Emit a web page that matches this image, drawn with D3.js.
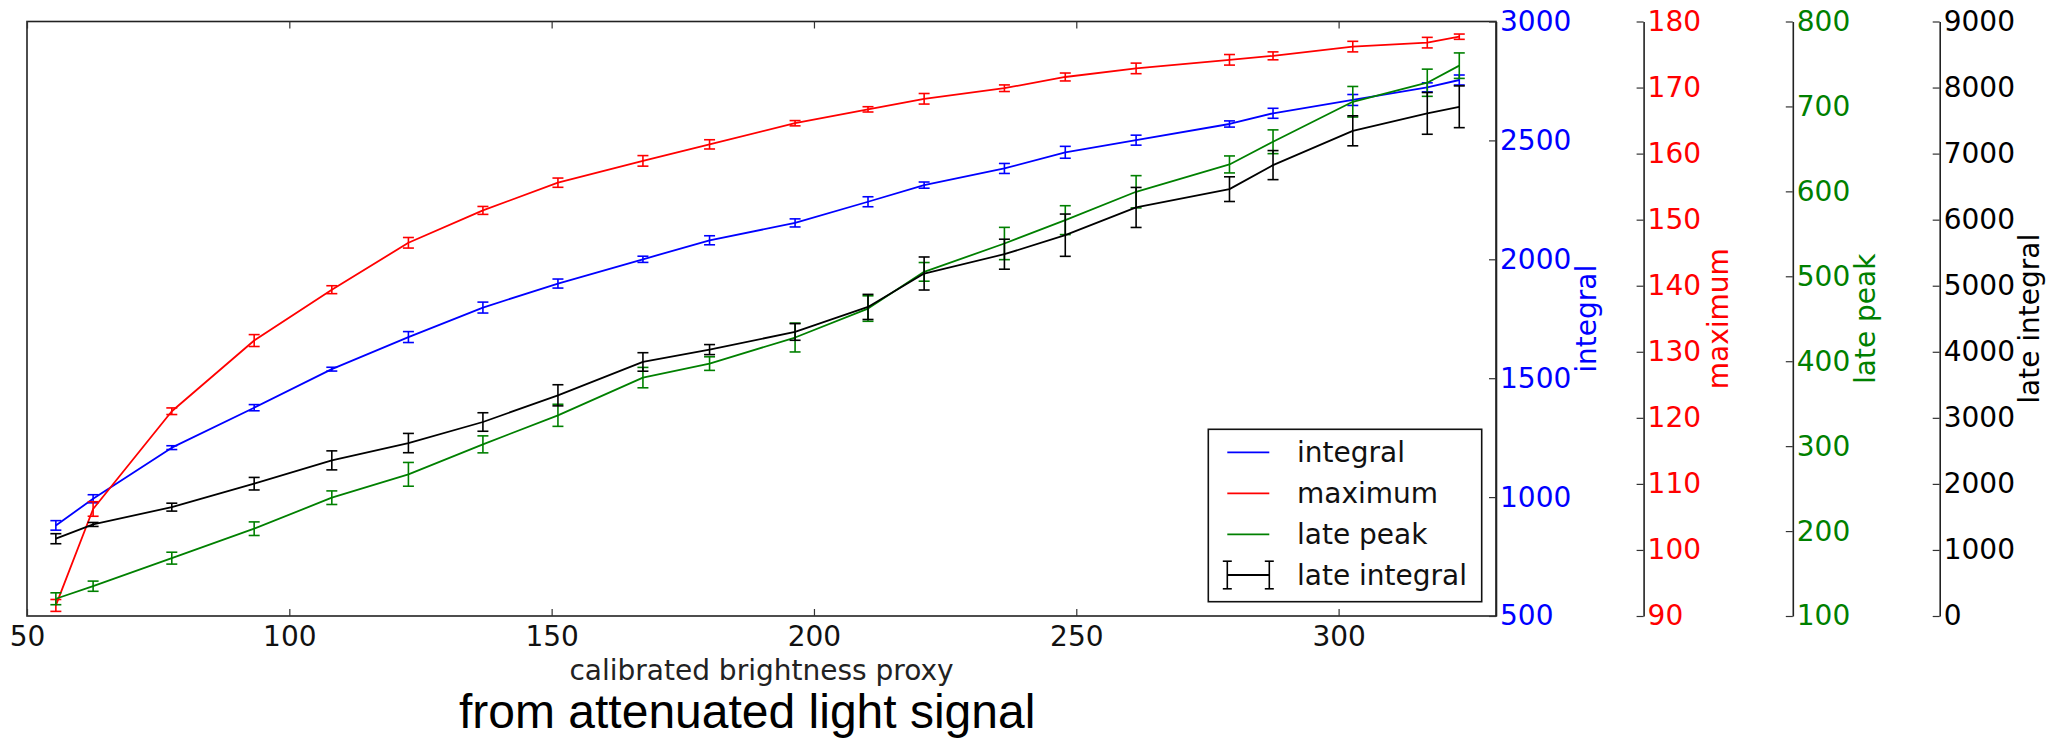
<!DOCTYPE html>
<html>
<head>
<meta charset="utf-8">
<script src="https://cdn.jsdelivr.net/npm/d3@7"></script>
<style>
  html, body { margin: 0; padding: 0; background: #fff; }
  svg { display: block; }
  text { font-family: "DejaVu Sans", sans-serif; }
  text.title { font-family: "Liberation Sans", Arial, sans-serif; }
</style>
</head>
<body>
<svg id="chart" width="2056" height="739"></svg>
<script>
// ---- data ----
const xVals = [55.5, 62.6, 77.6, 93.3, 108.1, 122.7, 136.9, 151.2, 167.4, 180.1, 196.4,
               210.3, 221.0, 236.3, 247.9, 261.4, 279.2, 287.5, 302.7, 316.9, 323.0];

const integral    = [881, 993, 1208, 1376, 1538, 1673, 1797, 1898, 2000, 2080, 2153,
                     2242, 2312, 2382, 2450, 2501, 2569, 2614, 2670, 2723, 2754];
const integralErr = [20, 17, 8, 13, 8, 23, 23, 19, 13, 19, 17, 21, 13, 21, 25, 21, 13, 21, 23, 19, 21];

const maximum    = [91.6, 106.2, 121.0, 131.7, 139.4, 146.5, 151.4, 155.6, 158.9, 161.4, 164.6,
                    166.7, 168.3, 169.9, 171.6, 172.9, 174.2, 174.8, 176.2, 176.8, 177.7];
const maximumErr = [0.9, 1.1, 0.5, 0.9, 0.6, 0.8, 0.6, 0.7, 0.8, 0.7, 0.4,
                    0.4, 0.8, 0.5, 0.6, 0.8, 0.8, 0.6, 0.8, 0.8, 0.4];

const latePeak    = [120.3, 135.1, 168.1, 202.8, 239.3, 266.8, 302.1, 336.3, 380.7, 397.2, 427.9,
                     462.0, 505.2, 538.6, 566.1, 599.5, 631.7, 658.4, 705.5, 727.9, 748.0];
const latePeakErr = [7, 6, 7, 8, 8, 14, 10, 13, 12, 8, 17, 15, 11, 19, 17, 19, 10, 14, 18, 16, 15];

const lateIntegral    = [1170, 1386, 1648, 2003, 2356, 2618, 2937, 3341, 3846, 4033, 4300,
                         4679, 5185, 5477, 5765, 6185, 6462, 6826, 7345, 7609, 7709];
const lateIntegralErr = [76, 30, 60, 95, 144, 146, 140, 160, 140, 76, 126,
                         190, 250, 227, 320, 303, 187, 220, 227, 316, 316];

const xDomain = [50, 330];
const xTicks = [50, 100, 150, 200, 250, 300];
const integralDomain = [500, 3000];
const integralTicks = [500, 1000, 1500, 2000, 2500, 3000];
const maximumDomain = [90, 180];
const maximumTicks = [90, 100, 110, 120, 130, 140, 150, 160, 170, 180];
const latePeakDomain = [100, 800];
const latePeakTicks = [100, 200, 300, 400, 500, 600, 700, 800];
const lateIntegralDomain = [0, 9000];
const lateIntegralTicks = [0, 1000, 2000, 3000, 4000, 5000, 6000, 7000, 8000, 9000];

const seriesNames = ["integral", "maximum", "late peak", "late integral"];
const xLabel = "calibrated brightness proxy";
const titleText = "from attenuated light signal";

// ---- layout ----
const L = 27, R = 1496, T = 21.5, B = 616;
const FS = 28;
const svg = d3.select("#chart");

const x = d3.scaleLinear().domain(xDomain).range([L, R]);

const axesDef = [
  { name: seriesNames[0], vals: integral, errs: integralErr, domain: integralDomain, ticks: integralTicks,
    color: "#0000ff", spineX: R, labelX: 1596 },
  { name: seriesNames[1], vals: maximum, errs: maximumErr, domain: maximumDomain, ticks: maximumTicks,
    color: "#ff0000", spineX: 1643.6, labelX: 1728 },
  { name: seriesNames[2], vals: latePeak, errs: latePeakErr, domain: latePeakDomain, ticks: latePeakTicks,
    color: "#008000", spineX: 1792.8, labelX: 1875 },
  { name: seriesNames[3], vals: lateIntegral, errs: lateIntegralErr, domain: lateIntegralDomain, ticks: lateIntegralTicks,
    color: "#000000", spineX: 1939.7, labelX: 2039 }
];
axesDef.forEach(a => { a.scale = d3.scaleLinear().domain(a.domain).range([B, T]); });

// ---- frame of main axes ----
svg.append("rect")
  .attr("x", L).attr("y", T).attr("width", R - L).attr("height", B - T)
  .attr("fill", "none").attr("stroke", "#222").attr("stroke-width", 1.6);

// x axis bottom (ticks inward)
const xAxisB = svg.append("g").attr("transform", `translate(0,${B})`)
  .call(d3.axisBottom(x).tickValues(xTicks).tickSizeInner(-7).tickSizeOuter(0).tickPadding(10).tickFormat(d3.format("d")));
xAxisB.select(".domain").remove();
xAxisB.selectAll("line").attr("stroke", "#333").attr("stroke-width", 1.2);
xAxisB.selectAll("text").attr("font-size", FS).attr("fill", "#111");

// x axis top ticks (inward, no labels)
const xAxisT = svg.append("g").attr("transform", `translate(0,${T})`)
  .call(d3.axisTop(x).tickValues(xTicks).tickSizeInner(-7).tickSizeOuter(0).tickFormat(""));
xAxisT.select(".domain").remove();
xAxisT.selectAll("line").attr("stroke", "#333").attr("stroke-width", 1.2);

// right axes
axesDef.forEach(a => {
  const g = svg.append("g").attr("transform", `translate(${a.spineX},0)`)
    .call(d3.axisRight(a.scale).tickValues(a.ticks).tickSizeInner(-7).tickSizeOuter(0).tickPadding(4).tickFormat(d3.format("d")));
  g.select(".domain").attr("stroke", "#222").attr("stroke-width", 1.6);
  g.selectAll(".tick line").attr("stroke", "#333").attr("stroke-width", 1.2);
  g.selectAll("text").attr("font-size", FS).attr("fill", a.color);
  svg.append("text")
    .attr("transform", `translate(${a.labelX},${(T + B) / 2}) rotate(-90)`)
    .attr("text-anchor", "middle")
    .attr("font-size", FS).attr("fill", a.color)
    .text(a.name);
});

// ---- series ----
const capW = 5.5;
axesDef.forEach(a => {
  const g = svg.append("g");
  const pts = xVals.map((xv, i) => ({ x: xv, y: a.vals[i], e: a.errs[i] }));
  g.append("path").datum(pts)
    .attr("fill", "none").attr("stroke", a.color).attr("stroke-width", 1.8)
    .attr("stroke-linejoin", "round")
    .attr("d", d3.line().x(d => x(d.x)).y(d => a.scale(d.y)));
  const eb = g.selectAll("g.eb").data(pts).join("g").attr("class", "eb")
    .attr("stroke", a.color).attr("stroke-width", 1.6);
  eb.append("line")
    .attr("x1", d => x(d.x)).attr("x2", d => x(d.x))
    .attr("y1", d => a.scale(d.y - d.e)).attr("y2", d => a.scale(d.y + d.e));
  eb.append("line")
    .attr("x1", d => x(d.x) - capW).attr("x2", d => x(d.x) + capW)
    .attr("y1", d => a.scale(d.y - d.e)).attr("y2", d => a.scale(d.y - d.e));
  eb.append("line")
    .attr("x1", d => x(d.x) - capW).attr("x2", d => x(d.x) + capW)
    .attr("y1", d => a.scale(d.y + d.e)).attr("y2", d => a.scale(d.y + d.e));
});

// ---- legend ----
const lg = svg.append("g");
lg.append("rect").attr("x", 1208.3).attr("y", 429.3).attr("width", 273.4).attr("height", 172.4)
  .attr("fill", "#fff").attr("stroke", "#111").attr("stroke-width", 1.6);
const rowY = [452.3, 493.3, 534.3, 575];
axesDef.forEach((a, i) => {
  const y = rowY[i];
  lg.append("line").attr("x1", 1227.3).attr("x2", 1269.3).attr("y1", y).attr("y2", y)
    .attr("stroke", a.color).attr("stroke-width", 1.8);
  if (i === 3) {
    [1227.3, 1269.3].forEach(xx => {
      lg.append("line").attr("x1", xx).attr("x2", xx).attr("y1", y - 13.8).attr("y2", y + 13.8)
        .attr("stroke", a.color).attr("stroke-width", 1.6);
      [y - 13.8, y + 13.8].forEach(yy => {
        lg.append("line").attr("x1", xx - 4.5).attr("x2", xx + 4.5).attr("y1", yy).attr("y2", yy)
          .attr("stroke", a.color).attr("stroke-width", 1.6);
      });
    });
  }
  lg.append("text").attr("x", 1297).attr("y", y + 10).attr("font-size", FS).attr("fill", "#111")
    .text(a.name);
});

// ---- labels ----
svg.append("text").attr("x", (L + R) / 2).attr("y", 680).attr("text-anchor", "middle")
  .attr("font-size", FS).attr("fill", "#222").text(xLabel);
svg.append("text").attr("class", "title").attr("x", 459).attr("y", 728)
  .attr("font-size", 48).attr("fill", "#000")
  .text(titleText);
</script>
</body>
</html>
